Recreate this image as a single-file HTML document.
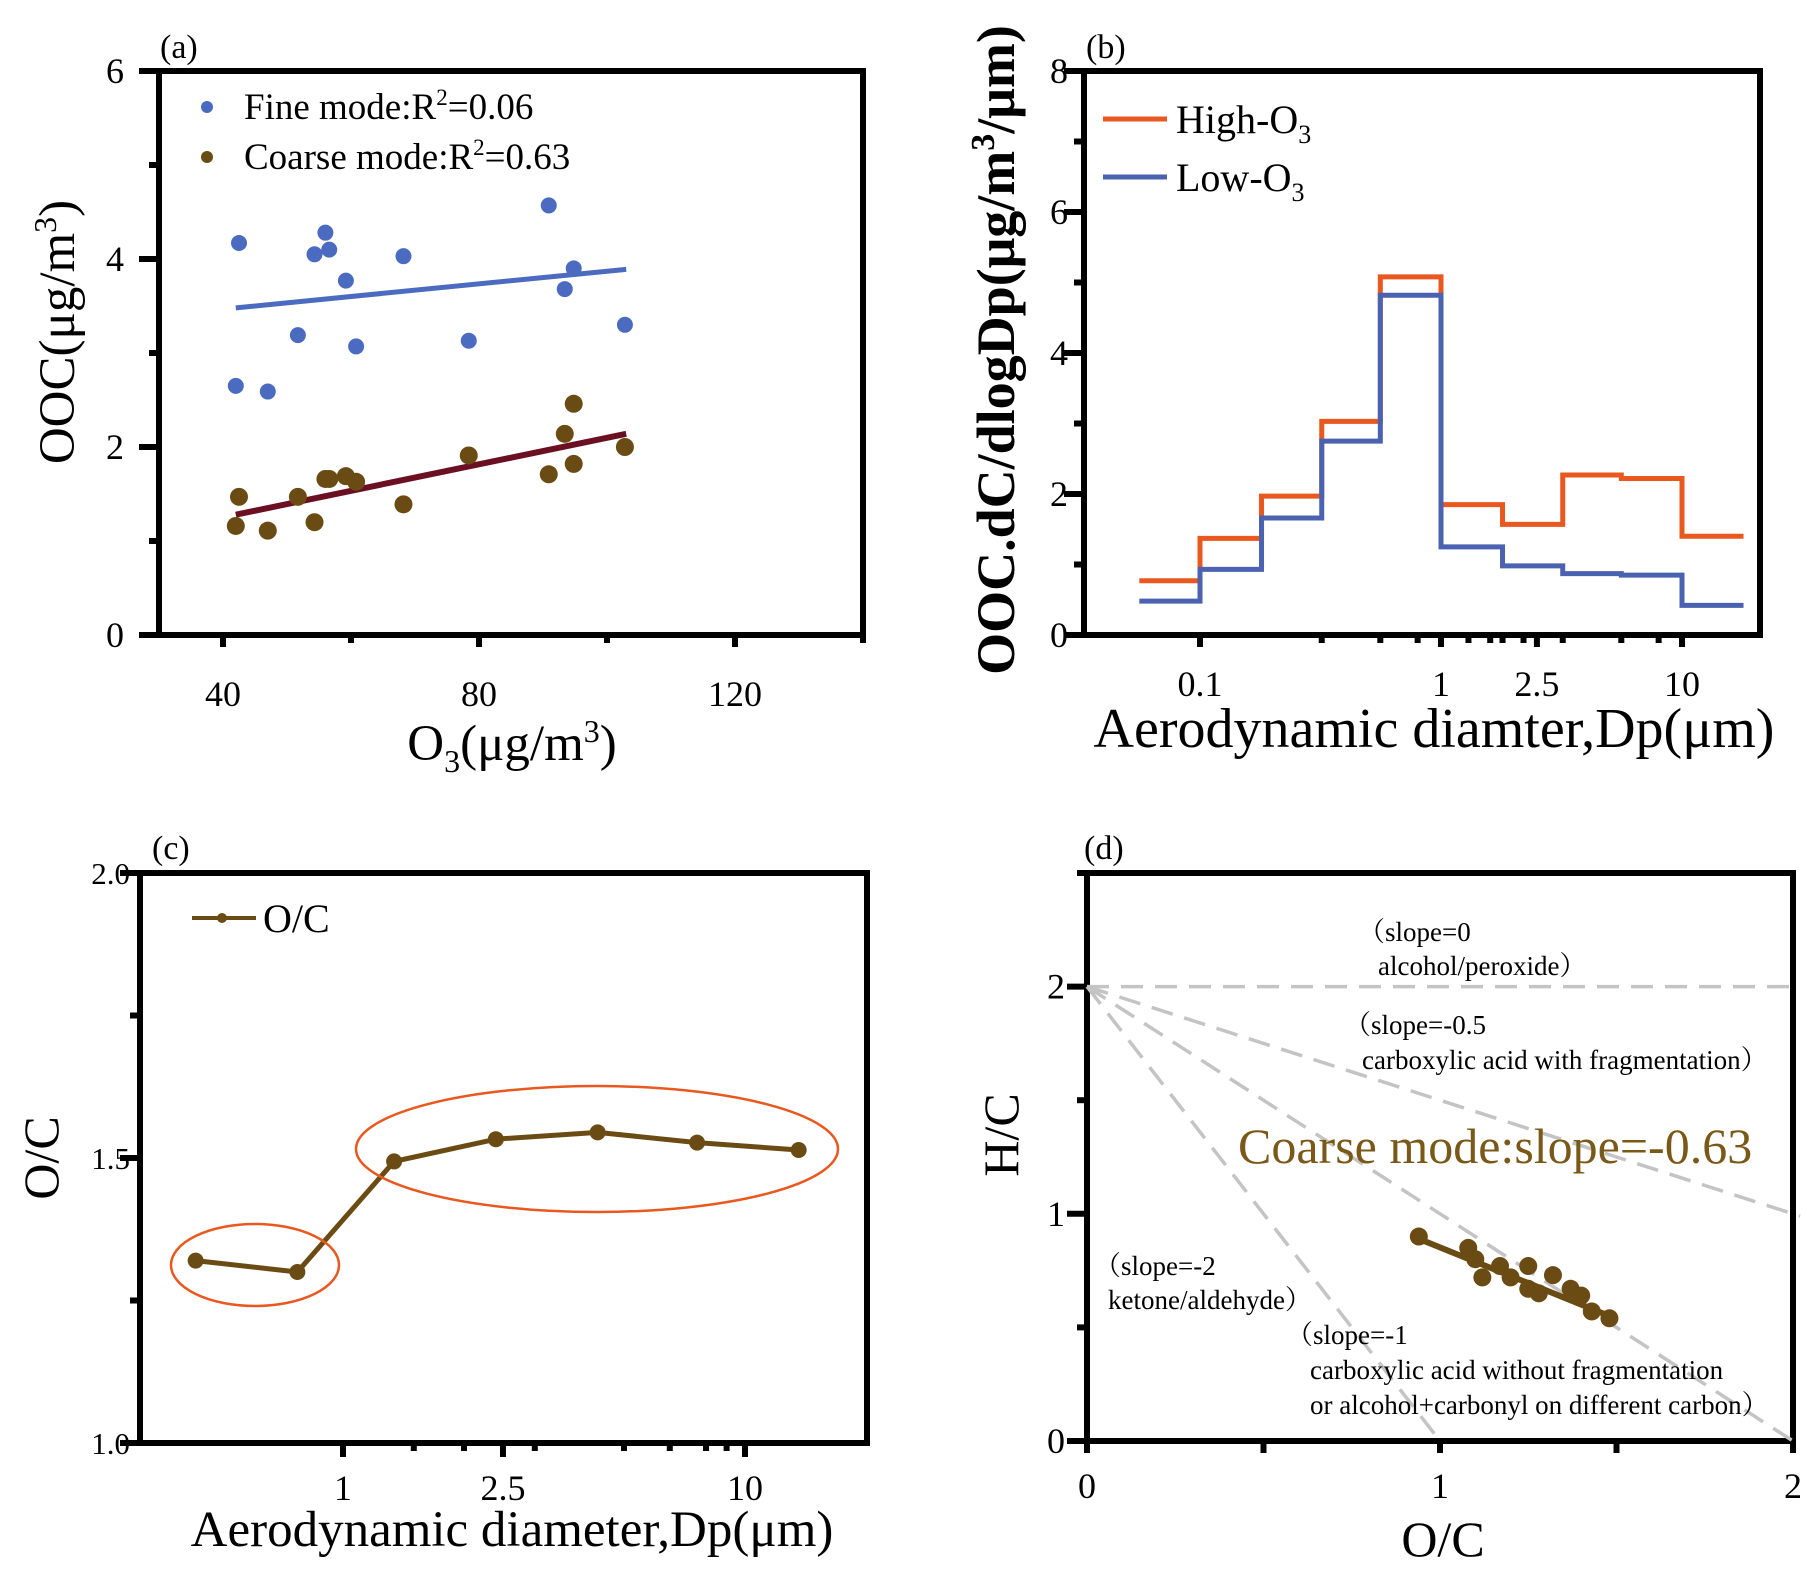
<!DOCTYPE html>
<html><head><meta charset="utf-8"><style>
body{margin:0;background:#fff}
svg{display:block;font-family:"Liberation Serif",serif}
</style></head><body>
<svg id="fig" width="1816" height="1569" viewBox="0 0 1816 1569" xmlns="http://www.w3.org/2000/svg"></svg>
<script>
// ---- Panel (a) data
const fineO3=[42.5,42,47,51.7,54.3,56,56.6,59.2,60.8,68.2,78.4,90.9,93.4,94.8,102.8];
const fineOOC=[4.17,2.65,2.59,3.19,4.05,4.28,4.1,3.77,3.07,4.03,3.13,4.57,3.68,3.9,3.3];
const coarseO3=[42,42.5,47,51.7,54.3,56,56.6,59.2,60.8,68.2,78.4,90.9,93.4,94.8,94.8,102.8];
const coarseOOC=[1.16,1.47,1.11,1.47,1.2,1.66,1.66,1.69,1.63,1.39,1.91,1.71,2.14,2.46,1.82,2.0];
const fineFit=[[42,3.48],[103,3.89]];
const coarseFit=[[42,1.28],[103,2.14]];
const aXTicks=[40,80,120];
const aYTicks=[0,2,4,6];
// ---- Panel (b) data
const binEdges=[0.056,0.1,0.18,0.32,0.56,1,1.8,3.2,5.6,10,18];
const highO3=[0.77,1.37,1.97,3.03,5.08,1.85,1.57,2.27,2.22,1.4];
const lowO3=[0.48,0.93,1.66,2.75,4.82,1.25,0.98,0.87,0.85,0.42];
const bXTicks=[0.1,1,2.5,10];
const bXLabels=["0.1","1","2.5","10"];
const bYTicks=[0,2,4,6,8];
// ---- Panel (c) data
const ocDp=[0.43,0.77,1.34,2.4,4.3,7.6,13.6];
const ocVal=[1.32,1.30,1.494,1.533,1.545,1.527,1.514];
const cXTicks=[1,2.5,10];
const cXLabels=["1","2.5","10"];
const cYTicks=[1.0,1.5,2.0];
const cYLabels=["1.0","1.5","2.0"];
// ---- Panel (d) data
const vkOC=[0.94,1.08,1.12,1.10,1.17,1.20,1.25,1.25,1.28,1.32,1.37,1.40,1.43,1.48];
const vkHC=[0.90,0.85,0.72,0.80,0.77,0.72,0.77,0.67,0.65,0.73,0.67,0.64,0.57,0.54];
const vkFit=[[0.94,0.89],[1.48,0.55]];
const refSlopes=[0,-0.5,-1,-2];
const dXTicks=[0,1,2];
const dYTicks=[0,1,2];

const NS="http://www.w3.org/2000/svg";
const svg=document.getElementById('fig');
function el(tag,attrs,parent,text){const e=document.createElementNS(NS,tag);for(const k in attrs)e.setAttribute(k,attrs[k]);if(text!==undefined)e.textContent=text;(parent||svg).appendChild(e);return e;}
function lin(d0,d1,r0,r1){return v=>r0+(v-d0)/(d1-d0)*(r1-r0);}
function logs(d0,d1,r0,r1){return v=>r0+(Math.log10(v)-Math.log10(d0))/(Math.log10(d1)-Math.log10(d0))*(r1-r0);}
function frame(g,L,T,R,B){
  const f=el('rect',{x:L,y:T,width:R-L,height:B-T,fill:'none',stroke:'#000','stroke-width':6},g);
  
  
}
function tick(g,x1,y1,x2,y2,nm){const t=el('line',{x1,y1,x2,y2,stroke:'#000','stroke-width':6},g);
  
  }
function txt(g,x,y,s,attrs,nm){const t=el('text',Object.assign({x,y,'font-size':36,fill:'#000'},attrs||{}),g,s);
  
  return t;}

// ================= Panel (a)
{
const g=el('g',{});


const L=159,R=863,T=71,B=635;
const x=lin(30,140,L,R), y=lin(0,6,B,T);
frame(g,L,T,R,B);
for(let v=40;v<=140;v+=20){tick(g,x(v),B,x(v),B+(aXTicks.includes(v)?12:8),'x-tick');}
for(let v=0;v<=6;v+=1){tick(g,L,y(v),L-(aYTicks.includes(v)?20:10),y(v),'y-tick');}
aXTicks.forEach(v=>txt(g,x(v),706,String(v),{'text-anchor':'middle'},'x-tick-label'));
aYTicks.forEach(v=>txt(g,124,y(v)+12,String(v),{'text-anchor':'end'},'y-tick-label'));
txt(g,160,58,'(a)',{'font-size':34},'panel-label-a');
const ft=el('line',{x1:x(fineFit[0][0]),y1:y(fineFit[0][1]),x2:x(fineFit[1][0]),y2:y(fineFit[1][1]),stroke:'#4a6bc0','stroke-width':5},g);


const ct=el('line',{x1:x(coarseFit[0][0]),y1:y(coarseFit[0][1]),x2:x(coarseFit[1][0]),y2:y(coarseFit[1][1]),stroke:'#6b0f22','stroke-width':6},g);


fineO3.forEach((v,i)=>{const c=el('circle',{cx:x(v),cy:y(fineOOC[i]),r:8,fill:'#4a6bc0'},g);
  
  });
coarseO3.forEach((v,i)=>{const c=el('circle',{cx:x(v),cy:y(coarseOOC[i]),r:9,fill:'#6b4b14'},g);
  
  });
const l1=el('circle',{cx:207,cy:107,r:6,fill:'#4a6bc0'},g);


const l2=el('circle',{cx:207,cy:157,r:6,fill:'#6b4b14'},g);


const t1=txt(g,244,119,'',{'font-size':37},'legend-fine-label');
t1.innerHTML='Fine mode:R<tspan dy="-14" font-size="23">2</tspan><tspan dy="14">=0.06</tspan>';
const t2=txt(g,244,169,'',{'font-size':37},'legend-coarse-label');
t2.innerHTML='Coarse mode:R<tspan dy="-14" font-size="23">2</tspan><tspan dy="14">=0.63</tspan>';
const yt=txt(g,0,0,'',{'font-size':51,'text-anchor':'middle',transform:'translate(74,332) rotate(-90)'},'y-axis-title-a');
yt.innerHTML='OOC(μg/m<tspan dy="-18" font-size="32">3</tspan><tspan dy="18">)</tspan>';
const xt=txt(g,512,760,'',{'font-size':51,'text-anchor':'middle'},'x-axis-title-a');
xt.innerHTML='O<tspan dy="12" font-size="32">3</tspan><tspan dy="-12">(μg/m</tspan><tspan dy="-18" font-size="32">3</tspan><tspan dy="18">)</tspan>';
}

// ================= Panel (b)
{
const g=el('g',{});


const L=1084,R=1760,T=71,B=635;
const x=logs(0.1,10,1200,1682), y=lin(0,8,B,T);
frame(g,L,T,R,B);
const minors=[0.32,0.56,0.8,1.3,1.6,1.8,2.2,3.2,5.6,8];
minors.forEach(v=>tick(g,x(v),B,x(v),B+8,'x-minor-tick'));
bXTicks.forEach(v=>tick(g,x(v),B,x(v),B+12,'x-tick'));
for(let v=0;v<=8;v+=1){tick(g,L,y(v),L-(v%2===0?20:10),y(v),'y-tick');}
bXTicks.forEach((v,i)=>txt(g,x(v),696,bXLabels[i],{'text-anchor':'middle'},'x-tick-label'));
bYTicks.forEach(v=>txt(g,1068,y(v)+12,String(v),{'text-anchor':'end'},'y-tick-label'));
txt(g,1086,58,'(b)',{'font-size':34},'panel-label-b');
function steps(vals){let d='';vals.forEach((v,i)=>{const x0=x(binEdges[i]),x1=x(binEdges[i+1]);d+=(i===0?'M':'L')+x0+','+y(v)+'L'+x1+','+y(v);});return d;}
const h=el('path',{d:steps(highO3),fill:'none',stroke:'#e8581f','stroke-width':5},g);


const lo=el('path',{d:steps(lowO3),fill:'none',stroke:'#4a62b0','stroke-width':5},g);


const lh=el('line',{x1:1103,y1:119,x2:1167,y2:119,stroke:'#e8581f','stroke-width':5},g);


const ll=el('line',{x1:1103,y1:177,x2:1167,y2:177,stroke:'#4a62b0','stroke-width':5},g);


const t1=txt(g,1176,133,'',{'font-size':40},'legend-high-label');
t1.innerHTML='High-O<tspan dy="10" font-size="26">3</tspan>';
const t2=txt(g,1176,191,'',{'font-size':40},'legend-low-label');
t2.innerHTML='Low-O<tspan dy="10" font-size="26">3</tspan>';
const yt=txt(g,0,0,'',{'font-size':54,'text-anchor':'middle','font-weight':'bold',transform:'translate(1014,350) rotate(-90)'},'y-axis-title-b');
yt.innerHTML='OOC.dC/dlogDp(μg/m<tspan dy="-20" font-size="34">3</tspan><tspan dy="20">/μm)</tspan>';
txt(g,1434,747,'Aerodynamic diamter,Dp(μm)',{'font-size':56,'text-anchor':'middle'},'x-axis-title-b');
}

// ================= Panel (c)
{
const g=el('g',{});


const L=140,R=867,T=873,B=1443;
const x=logs(1,10,343,745), y=lin(1,2,B,T);
frame(g,L,T,R,B);
[1.5,2,3,5,6.5,8,9].forEach(v=>tick(g,x(v),B,x(v),B+8,'x-minor-tick'));
cXTicks.forEach(v=>tick(g,x(v),B,x(v),B+14,'x-tick'));
[1,1.25,1.5,1.75,2].forEach(v=>tick(g,L,y(v),L-(cYTicks.includes(v)?20:10),y(v),'y-tick'));
cXTicks.forEach((v,i)=>txt(g,x(v),1500,cXLabels[i],{'text-anchor':'middle'},'x-tick-label'));
cYTicks.forEach((v,i)=>txt(g,130,y(v)+11,cYLabels[i],{'text-anchor':'end','font-size':31},'y-tick-label'));
txt(g,152,859,'(c)',{'font-size':34},'panel-label-c');
const pts=ocDp.map((v,i)=>x(v)+','+y(ocVal[i])).join(' ');
const pl=el('polyline',{points:pts,fill:'none',stroke:'#6b4b14','stroke-width':5},g);


ocDp.forEach((v,i)=>{const c=el('circle',{cx:x(v),cy:y(ocVal[i]),r:8,fill:'#6b4b14'},g);
  
  });
const e1=el('ellipse',{cx:255,cy:1265,rx:84,ry:41,fill:'none',stroke:'#e8581f','stroke-width':2.5},g);


const e2=el('ellipse',{cx:597,cy:1149,rx:241,ry:63,fill:'none',stroke:'#e8581f','stroke-width':2.5},g);


const lg=el('line',{x1:192,y1:918,x2:256,y2:918,stroke:'#6b4b14','stroke-width':4},g);


const lm=el('circle',{cx:222,cy:918,r:5,fill:'#6b4b14'},g);


txt(g,263,932,'O/C',{'font-size':40},'legend-oc-label');
txt(g,0,0,'O/C',{'font-size':50,'text-anchor':'middle',transform:'translate(58,1158) rotate(-90)'},'y-axis-title-c');
txt(g,512,1546,'Aerodynamic diameter,Dp(μm)',{'font-size':51,'text-anchor':'middle'},'x-axis-title-c');
}

// ================= Panel (d)
{
const g=el('g',{});


const L=1087,R=1793,T=873,B=1441;
const x=lin(0,2,L,R), y=lin(0,2.5,B,T);
frame(g,L,T,R,B);
[0,0.5,1,1.5,2].forEach(v=>tick(g,x(v),B,x(v),B+12,'x-tick'));
[0,0.5,1,1.5,2,2.5].forEach(v=>tick(g,L,y(v),L-(dYTicks.includes(v)?20:10),y(v),'y-tick'));
dXTicks.forEach(v=>txt(g,x(v),1498,String(v),{'text-anchor':'middle'},'x-tick-label'));
dYTicks.forEach(v=>txt(g,1065,y(v)+12,String(v),{'text-anchor':'end'},'y-tick-label'));
txt(g,1084,859,'(d)',{'font-size':34},'panel-label-d');
refSlopes.forEach(s=>{
  let xe=2.02; if(s<0){xe=Math.min(2.02,2/(-s));}
  const ln=el('line',{x1:x(0),y1:y(2),x2:x(xe),y2:y(2+s*xe),stroke:'#c4c4c4','stroke-width':3.5,'stroke-dasharray':'22,12'},g);
  
  
});
const ft=el('line',{x1:x(vkFit[0][0]),y1:y(vkFit[0][1]),x2:x(vkFit[1][0]),y2:y(vkFit[1][1]),stroke:'#6b4b14','stroke-width':6},g);


vkOC.forEach((v,i)=>{const c=el('circle',{cx:x(v),cy:y(vkHC[i]),r:9,fill:'#6b4b14'},g);
  
  });
const f={'font-size':27,'font-family':'"Liberation Serif","Noto Serif CJK SC",serif'};
txt(g,1358,941,'（slope=0',f,'annotation-slope-0');
txt(g,1378,975,'alcohol/peroxide）',f,'annotation-alcohol');
txt(g,1344,1034,'（slope=-0.5',f,'annotation-slope-05');
txt(g,1362,1069,'carboxylic acid with fragmentation）',f,'annotation-carboxylic-frag');
txt(g,1238,1163,'Coarse mode:slope=-0.63',{'font-size':50,fill:'#7a5818'},'annotation-coarse-slope');
txt(g,1094,1275,'（slope=-2',f,'annotation-slope-2');
txt(g,1108,1309,'ketone/aldehyde）',f,'annotation-ketone');
txt(g,1286,1344,'（slope=-1',f,'annotation-slope-1');
txt(g,1310,1379,'carboxylic acid without fragmentation',f,'annotation-carboxylic-nofrag');
txt(g,1310,1414,'or alcohol+carbonyl on different carbon）',f,'annotation-alcohol-carbonyl');
txt(g,0,0,'H/C',{'font-size':50,'text-anchor':'middle',transform:'translate(1018,1135) rotate(-90)'},'y-axis-title-d');
txt(g,1443,1556,'O/C',{'font-size':50,'text-anchor':'middle'},'x-axis-title-d');
}
</script>
</body></html>
